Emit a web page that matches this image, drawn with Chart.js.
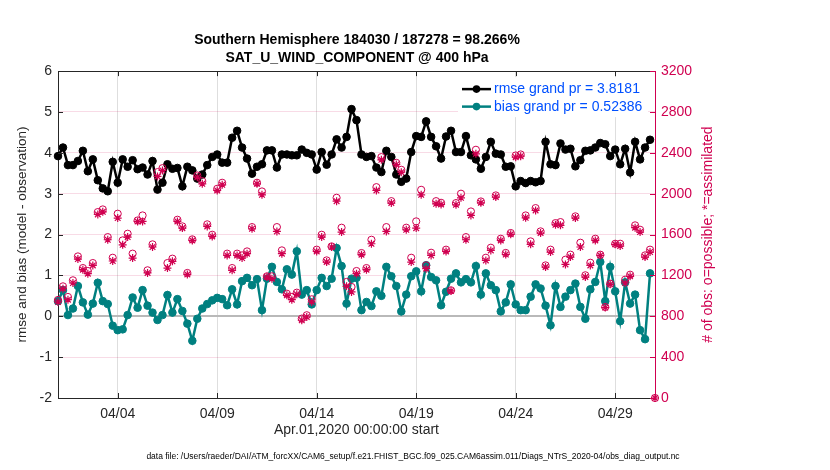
<!DOCTYPE html>
<html>
<head>
<meta charset="utf-8">
<title>SAT_U_WIND_COMPONENT @ 400 hPa</title>
<script src="https://cdn.jsdelivr.net/npm/chart.js@4.4.0/dist/chart.umd.min.js"></script>
<style>
  html, body { margin: 0; padding: 0; background: #fff; }
  #wrap { width: 830px; height: 470px; }
</style>
</head>
<body>
<div id="wrap"><canvas id="myChart" width="830" height="470"></canvas></div>
<script>
// 6-hourly bins starting Apr.01,2020 00Z (121 bins, last one is empty)
const rmse = [
  3.92, 4.13, 3.70, 3.70, 3.80, 4.05, 3.55, 3.84, 3.33, 3.13,
  3.06, 3.78, 3.27, 3.84, 3.66, 3.82, 3.60, 3.64, 3.47, 3.80,
  3.10, 3.27, 3.72, 3.61, 3.63, 3.18, 3.66, 3.57, 3.37, 3.47,
  3.70, 3.90, 3.96, 3.76, 3.76, 4.37, 4.54, 4.13, 3.86, 3.49,
  3.66, 3.72, 4.06, 4.06, 3.64, 3.96, 3.96, 3.94, 3.94, 4.08,
  4.00, 3.96, 3.59, 4.02, 3.71, 3.96, 4.33, 4.13, 4.39, 5.07,
  4.80, 3.96, 3.90, 3.92, 3.64, 3.53, 4.05, 3.90, 3.47, 3.29,
  3.37, 4.02, 4.41, 4.39, 4.77, 4.39, 4.16, 3.86, 4.40, 4.54,
  4.02, 4.02, 4.41, 3.94, 3.84, 3.61, 3.90, 4.27, 3.98, 3.96,
  3.66, 3.67, 3.18, 3.31, 3.26, 3.31, 3.28, 3.31, 4.27, 3.72,
  3.70, 4.23, 4.08, 4.10, 3.67, 3.82, 4.05, 4.06, 4.13, 4.24,
  4.21, 3.92, 4.08, 3.72, 4.10, 3.52, 4.27, 3.84, 4.13, 4.32,
  null
];

const bias = [
  0.37, 0.64, 0.03, 0.19, 0.74, 0.34, 0.04, 0.31, 0.82, 0.37,
  0.30, -0.23, -0.34, -0.32, 0.03, 0.46, 0.21, 0.64, 0.26, 0.09,
  -0.09, 0.03, 0.52, 0.09, 0.42, 0.13, -0.18, -0.60, -0.06, 0.19,
  0.30, 0.39, 0.45, 0.42, 0.27, 0.66, 0.29, 0.86, 0.94, 0.76,
  0.91, 0.15, 0.92, 1.21, 0.84, 0.66, 1.15, 1.02, 1.59, 0.53,
  0.64, 0.29, 0.64, 0.94, 0.74, 0.92, 1.67, 1.23, 0.31, 0.92,
  0.94, 0.15, 0.35, 0.25, 0.61, 0.50, 1.21, 0.98, 0.74, 0.12,
  0.53, 0.98, 1.10, 0.61, 1.25, 0.96, 0.88, 0.27, 0.60, 0.92,
  1.05, 0.83, 0.91, 0.83, 1.23, 0.53, 1.05, 0.76, 0.64, 0.12,
  0.34, 0.78, 0.29, 0.15, 0.15, 0.48, 0.78, 0.68, 0.26, -0.22,
  0.74, 0.23, 0.48, 0.64, 0.80, 0.23, -0.06, 0.66, 0.84, 1.33,
  0.37, 1.21, 0.61, -0.12, 0.83, 0.31, 0.53, -0.34, -0.56, 1.05,
  null
];

const obsPossible = [
  960, 1093, 989, 1152, 1386, 1272, 1243, 1321, 1820, 1846,
  1575, 1373, 1804, 1543, 1608, 1413, 1738, 1787, 1250, 1504,
  2211, 2250, 1321, 1364, 1745, 1680, 1224, 1553, 2178, 2123,
  1700, 1598, 2048, 2107, 1413, 1272, 1413, 1396, 1435, 1673,
  2107, 2022, 1191, 1191, 1673, 1445, 1021, 989, 1031, 777,
  810, 966, 1452, 1598, 1347, 1484, 1960, 1667, 1136, 1087,
  1243, 1419, 1272, 1549, 2064, 2358, 1673, 1927, 2302, 2234,
  1667, 1373, 1729, 2038, 1298, 1422, 1927, 1911, 1452, 1054,
  1908, 2000, 1575, 1826, 2430, 1924, 1373, 1471, 1983, 1559,
  1420, 1615, 2374, 2384, 1787, 1533, 1859, 1631, 1298, 1452,
  1712, 1722, 1354, 1403, 1778, 1520, 1201, 1324, 1559, 1403,
  891, 1119, 1510, 1510, 1158, 1207, 1690, 1647, 1396, 1452,
  0
];

const obsAssimilated = [
  940, 1070, 963, 1126, 1360, 1256, 1217, 1298, 1797, 1823,
  1549, 1341, 1761, 1500, 1575, 1370, 1729, 1729, 1224, 1478,
  2169, 2227, 1272, 1338, 1729, 1663, 1210, 1543, 2162, 2097,
  1680, 1582, 2032, 2087, 1396, 1250, 1396, 1370, 1413, 1657,
  2097, 1989, 1184, 1168, 1631, 1413, 1005, 963, 1015, 761,
  793, 940, 1435, 1575, 1331, 1478, 1927, 1624, 1093, 1038,
  1217, 1403, 1256, 1510, 2032, 2332, 1631, 1908, 2286, 2211,
  1647, 1331, 1663, 1989, 1266, 1396, 1901, 1895, 1435, 1048,
  1892, 1960, 1549, 1787, 2390, 1911, 1347, 1445, 1967, 1543,
  1405, 1602, 2358, 2367, 1764, 1504, 1836, 1615, 1282, 1429,
  1696, 1690, 1308, 1380, 1761, 1478, 1184, 1298, 1543, 1396,
  885, 1113, 1504, 1487, 1126, 1191, 1667, 1624, 1380, 1429,
  0
];

// x ticks: days since Apr.01 00Z
const tickDays = [3, 8, 13, 18, 23, 28];
const tickLabels = ['04/04', '04/09', '04/14', '04/19', '04/24', '04/29'];

const titleLines = ['Southern Hemisphere 184030 / 187278 = 98.266%', 'SAT_U_WIND_COMPONENT @ 400 hPa'];
const legendLabels = ['rmse grand pr = 3.8181', 'bias grand pr = 0.52386'];
const xTitle = 'Apr.01,2020 00:00:00 start';
const yTitle = 'rmse and bias (model - observation)';
const y2Title = '# of obs: o=possible; *=assimilated';
const dataFile = 'data file: /Users/raeder/DAI/ATM_forcXX/CAM6_setup/f.e21.FHIST_BGC.f09_025.CAM6assim.011/Diags_NTrS_2020-04/obs_diag_output.nc';

const CRIMSON = 'rgb(208,0,80)';
const TEAL = 'rgb(0,128,128)';
const AXIS = '#262626';
const FAMILY = '"Liberation Sans", Arial, Helvetica, sans-serif';

Chart.defaults.font.family = FAMILY;

const days = rmse.map((_, i) => i / 4);
const toXY = arr => arr.map((v, i) => ({x: days[i], y: v}));

// inward ticks, right axis label, legend, footnote
const extras = {
  id: 'extras',
  afterDraw(chart) {
    const ctx = chart.ctx;
    const ca = chart.chartArea;
    const {x, y, y2} = chart.scales;
    ctx.save();

    // tick marks pointing into the plot
    ctx.lineWidth = 1;
    ctx.strokeStyle = AXIS;
    ctx.beginPath();
    y.ticks.forEach(t => {
      const py = Math.round(y.getPixelForValue(t.value)) + 0.5;
      ctx.moveTo(ca.left, py); ctx.lineTo(ca.left + 5, py);
    });
    tickDays.forEach(d => {
      const px = Math.round(x.getPixelForValue(d)) + 0.5;
      ctx.moveTo(px, ca.bottom); ctx.lineTo(px, ca.bottom - 5);
      ctx.moveTo(px, ca.top); ctx.lineTo(px, ca.top + 5);
    });
    ctx.stroke();
    ctx.strokeStyle = CRIMSON;
    ctx.beginPath();
    y2.ticks.forEach(t => {
      const py = Math.round(y2.getPixelForValue(t.value)) + 0.5;
      ctx.moveTo(ca.right, py); ctx.lineTo(ca.right - 5, py);
    });
    ctx.stroke();

    // right axis title, reading bottom to top
    ctx.fillStyle = CRIMSON;
    ctx.font = '14px ' + FAMILY;
    ctx.textAlign = 'center';
    ctx.textBaseline = 'middle';
    ctx.translate(708, (ca.top + ca.bottom) / 2);
    ctx.rotate(-Math.PI / 2);
    ctx.fillText(y2Title, 0, 0);
    ctx.setTransform(1, 0, 0, 1, 0, 0);
    ctx.restore();

    // legend inside the plot, upper right
    ctx.save();
    const lx = ca.right - 197, ly = ca.top + 6;
    ctx.fillStyle = '#fff';
    ctx.fillRect(lx, ly, 190, 40);
    const entries = [chart.data.datasets[2], chart.data.datasets[3]];
    entries.forEach((ds, k) => {
      const cy = ly + 12 + k * 17.5;
      ctx.strokeStyle = ds.borderColor;
      ctx.lineWidth = 2.5;
      ctx.beginPath();
      ctx.moveTo(lx + 4, cy); ctx.lineTo(lx + 33, cy);
      ctx.stroke();
      ctx.fillStyle = ds.backgroundColor;
      ctx.beginPath();
      ctx.arc(lx + 18.5, cy, 3.8, 0, Math.PI * 2);
      ctx.fill();
      ctx.fillStyle = '#0050ff';
      ctx.font = '14px ' + FAMILY;
      ctx.textAlign = 'left';
      ctx.textBaseline = 'middle';
      ctx.fillText(ds.label, lx + 36, cy + 0.5);
    });

    // data file footnote
    ctx.fillStyle = '#000';
    ctx.font = '8px ' + FAMILY;
    const w = ctx.measureText(dataFile).width;
    const fs = 8 * 534 / w;
    ctx.font = fs.toFixed(2) + 'px ' + FAMILY;
    ctx.textAlign = 'center';
    ctx.textBaseline = 'middle';
    ctx.fillText(dataFile, 413, 457);
    ctx.restore();
  }
};

const config = {
  type: 'line',
  data: {
    datasets: [
      {
        label: 'possible',
        data: toXY(obsPossible),
        yAxisID: 'y2',
        showLine: false,
        pointStyle: 'circle',
        pointRadius: 3.6,
        pointBorderWidth: 1,
        borderColor: CRIMSON,
        backgroundColor: 'rgba(0,0,0,0)',
        clip: false,
        order: 0
      },
      {
        label: 'assimilated',
        data: toXY(obsAssimilated),
        yAxisID: 'y2',
        showLine: false,
        pointStyle: 'star',
        pointRadius: 4,
        pointBorderWidth: 1.2,
        borderColor: CRIMSON,
        backgroundColor: CRIMSON,
        clip: false,
        order: 1
      },
      {
        label: legendLabels[0],
        data: toXY(rmse),
        yAxisID: 'y',
        borderColor: '#000',
        backgroundColor: '#000',
        borderWidth: 2.5,
        pointRadius: 3.8,
        pointBorderWidth: 1,
        pointBorderColor: '#000',
        pointBackgroundColor: '#000',
        clip: false,
        order: 2
      },
      {
        label: legendLabels[1],
        data: toXY(bias),
        yAxisID: 'y',
        borderColor: TEAL,
        backgroundColor: TEAL,
        borderWidth: 2.5,
        pointRadius: 3.8,
        pointBorderWidth: 1,
        pointBorderColor: TEAL,
        pointBackgroundColor: TEAL,
        clip: false,
        order: 3
      }
    ]
  },
  options: {
    responsive: false,
    animation: false,
    events: [],
    layout: { padding: { left: 0, right: 116, top: 0, bottom: 0 } },
    plugins: {
      legend: { display: false },
      tooltip: { enabled: false },
      title: {
        display: true,
        text: titleLines,
        color: '#000',
        font: { size: 14, weight: 'bold', lineHeight: 1.29 },
        padding: { top: 31, bottom: 4 }
      }
    },
    scales: {
      x: {
        type: 'linear',
        position: 'bottom',
        min: 0,
        max: 30,
        afterBuildTicks: s => { s.ticks = tickDays.map(v => ({ value: v })); },
        ticks: {
          callback: v => tickLabels[tickDays.indexOf(v)],
          color: AXIS,
          font: { size: 14 },
          padding: 8,
          maxRotation: 0,
          autoSkip: false
        },
        grid: { color: 'rgb(222,222,222)', lineWidth: 1, drawTicks: false },
        border: { color: AXIS, width: 1 },
        title: {
          display: true,
          text: xTitle,
          color: AXIS,
          font: { size: 14 },
          padding: { top: 0, bottom: 31 }
        },
        afterFit: s => { s.height = 72; }
      },
      x2: {
        type: 'linear',
        position: 'top',
        min: 0,
        max: 30,
        ticks: { display: false },
        grid: { drawOnChartArea: false, drawTicks: false },
        border: { color: AXIS, width: 1 },
        afterFit: s => { s.height = 0; }
      },
      y: {
        position: 'left',
        min: -2,
        max: 6,
        ticks: { stepSize: 1, color: AXIS, font: { size: 14 }, padding: 6 },
        grid: {
          color: c => c.tick.value === 0 ? 'rgb(185,185,185)' : 'rgba(204,0,77,0.14)',
          lineWidth: c => c.tick.value === 0 ? 2 : 1,
          drawTicks: false
        },
        border: { color: AXIS, width: 1 },
        title: {
          display: true,
          text: yTitle,
          color: AXIS,
          font: { size: 13.5 },
          padding: { top: 14, bottom: 0 }
        },
        afterFit: s => { s.width = 58; }
      },
      y2: {
        position: 'right',
        min: 0,
        max: 3200,
        ticks: { stepSize: 400, callback: v => String(v), color: CRIMSON, font: { size: 14 }, padding: 6 },
        grid: { drawOnChartArea: false, drawTicks: false },
        border: { color: CRIMSON, width: 1 },
        afterFit: s => { s.width = 59; }
      }
    }
  },
  plugins: [extras]
};

const ctx = document.getElementById('myChart').getContext('2d');
const myChart = new Chart(ctx, config);
</script>
</body>
</html>
